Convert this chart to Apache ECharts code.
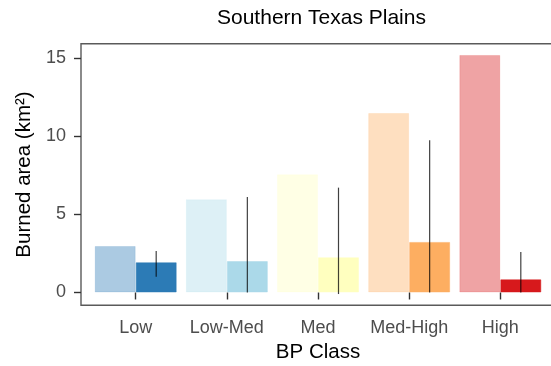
<!DOCTYPE html>
<html>
<head>
<meta charset="utf-8">
<script src="https://cdn.jsdelivr.net/npm/echarts@6/dist/echarts.min.js"></script>
<style>
html,body{margin:0;padding:0;background:#fff;}
#chart{width:551px;height:366px;}
</style>
</head>
<body>
<div id="chart"></div>
<script>
const categories = ['Low', 'Low-Med', 'Med', 'Med-High', 'High'];
const totalArea = [2.97, 5.96, 7.55, 11.47, 15.18];
const meanArea = [1.93, 2.01, 2.25, 3.23, 0.84];
const errLow = [1.01, 0.0, -0.1, 0.0, 0.0];
const errHigh = [2.65, 6.10, 6.70, 9.73, 2.59];
const classColors = ['#2c7bb6', '#abd9e9', '#ffffbf', '#fdae61', '#d7191c'];
const yTicks = [0, 5, 10, 15];

function rgba(hex, a) {
  const n = parseInt(hex.slice(1), 16);
  return 'rgba(' + ((n >> 16) & 255) + ',' + ((n >> 8) & 255) + ',' + (n & 255) + ',' + a + ')';
}
const xPos = categories.map((c, i) => i + 1);
const FONT = 'Liberation Sans';
const BARW = 41;

const chart = echarts.init(document.getElementById('chart'), null, {renderer: 'canvas'});
chart.setOption({
  animation: false,
  backgroundColor: '#ffffff',
  title: {
    text: 'Southern Texas Plains',
    left: 212, top: 3,
    textStyle: {fontFamily: FONT, fontSize: 21, fontWeight: 'normal', color: '#000'}
  },
  grid: {
    left: 81, width: 474, top: 43.7, height: 261.6,
    outerBoundsMode: 'none', containLabel: false,
    show: true, borderColor: '#5a5a5a', borderWidth: 1.4, backgroundColor: '#fff'
  },
  xAxis: {
    type: 'value', min: 0.4, max: 5.6,
    name: 'BP Class', nameLocation: 'middle', nameGap: 33,
    nameTextStyle: {fontFamily: FONT, fontSize: 20.5, color: '#000'},
    axisLine: {show: false},
    splitLine: {show: false},
    axisTick: {show: true, length: 7, customValues: xPos, lineStyle: {color: '#333', width: 1.4}},
    axisLabel: {
      customValues: xPos, margin: 14,
      fontFamily: FONT, fontSize: 18, color: '#4d4d4d',
      formatter: v => categories[Math.round(v) - 1]
    }
  },
  yAxis: {
    type: 'value', min: -0.82, max: 15.9,
    name: 'Burned area (km²)', nameLocation: 'middle', nameGap: 44,
    nameTextStyle: {fontFamily: FONT, fontSize: 20.5, color: '#000'},
    axisLine: {show: false},
    splitLine: {show: false},
    axisTick: {show: true, length: 7, customValues: yTicks, lineStyle: {color: '#333', width: 1.4}},
    axisLabel: {
      customValues: yTicks, margin: 15,
      fontFamily: FONT, fontSize: 18, color: '#4d4d4d'
    }
  },
  series: [
    {
      type: 'bar', barWidth: BARW, barGap: '0%',
      data: totalArea.map((v, i) => ({
        value: [xPos[i], v],
        itemStyle: {color: rgba(classColors[i], 0.4), borderColor: rgba(classColors[i], 0.15), borderWidth: 1}
      }))
    },
    {
      type: 'bar', barWidth: BARW, barGap: '0%',
      data: meanArea.map((v, i) => ({
        value: [xPos[i], v],
        itemStyle: {color: classColors[i], borderColor: rgba(classColors[i], 0.5), borderWidth: 1}
      }))
    },
    {
      type: 'custom',
      data: errLow.map((v, i) => [xPos[i], v, errHigh[i]]),
      renderItem: function (params, api) {
        const p1 = api.coord([api.value(0), api.value(1)]);
        const p2 = api.coord([api.value(0), api.value(2)]);
        const x = p1[0] + BARW / 2;
        return {
          type: 'line',
          shape: {x1: x, y1: p1[1], x2: x, y2: p2[1]},
          style: {stroke: 'rgba(0,0,0,0.75)', lineWidth: 1.2}
        };
      },
      z: 5
    }
  ]
});
</script>
</body>
</html>
